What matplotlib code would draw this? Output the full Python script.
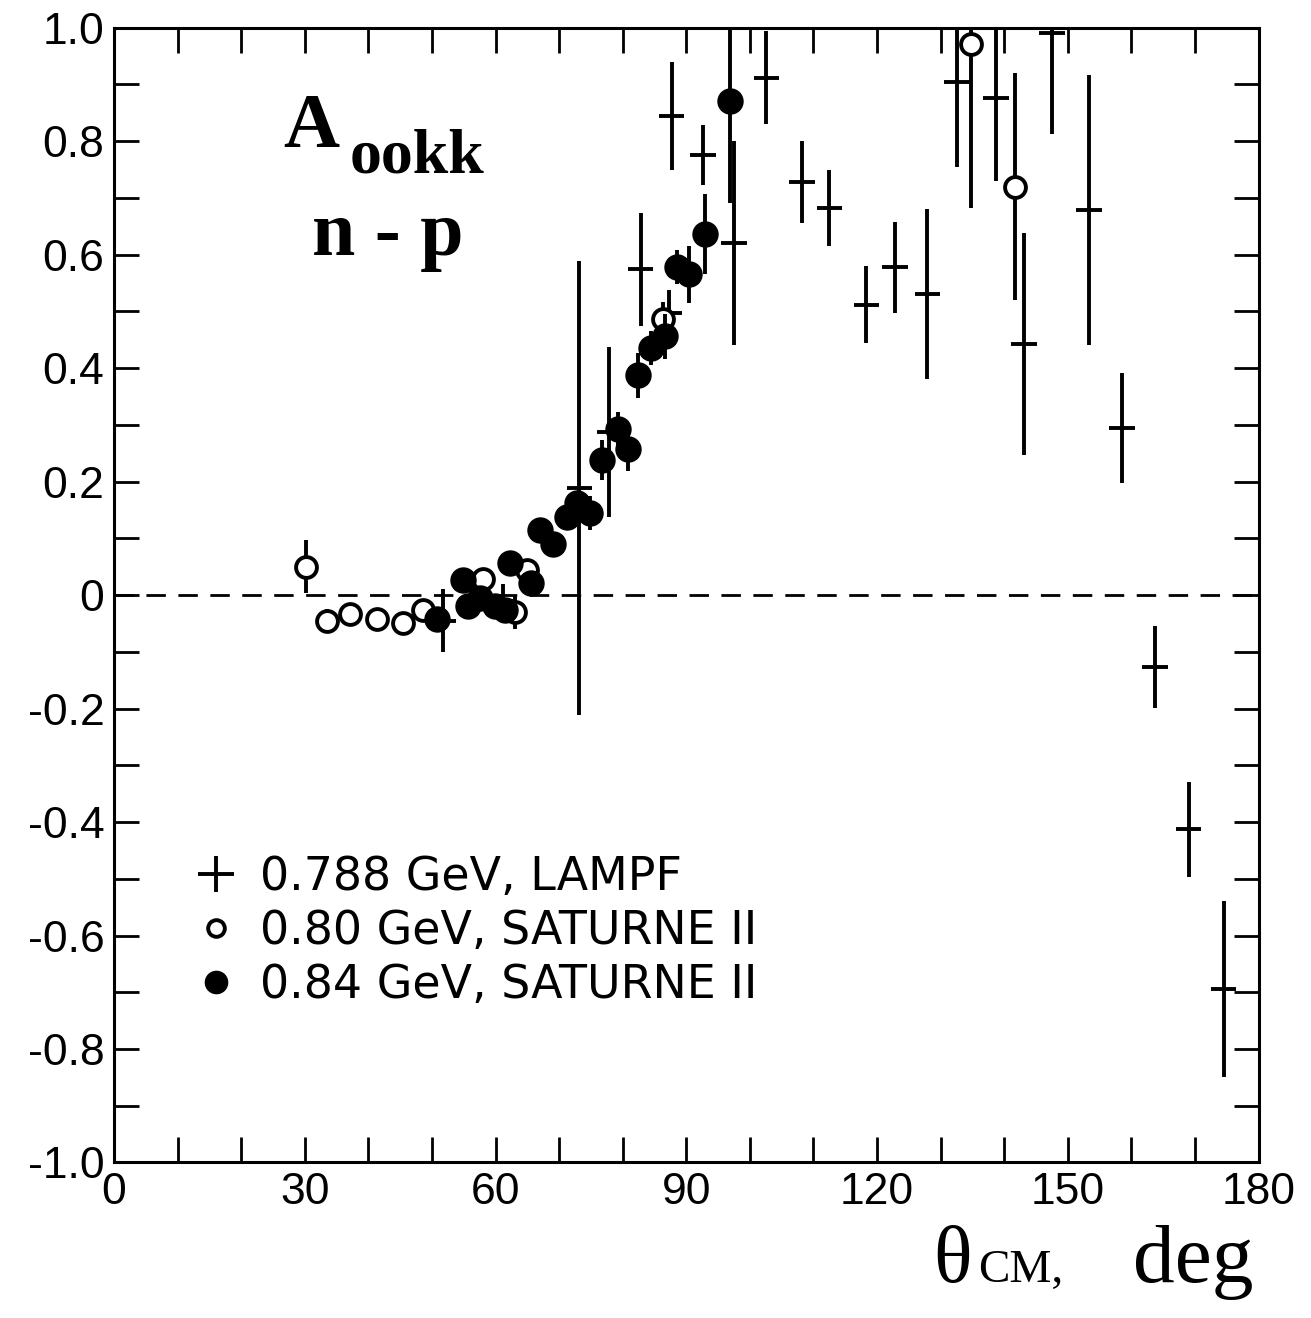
import numpy as np
import matplotlib
matplotlib.use("Agg")
import matplotlib.pyplot as plt
from matplotlib.lines import Line2D

# 0.788 GeV, LAMPF  (theta_cm [deg], A_ookk, error)
lampf_theta = [51.8, 61.2, 73.2, 77.9, 82.8, 87.3, 87.7, 92.6, 97.5, 102.6,
               108.2, 112.5, 118.3, 122.8, 127.9, 132.6, 138.7, 143.1, 147.5,
               153.3, 158.5, 163.7, 169.0, 174.5]
lampf_a = [-0.045, -0.01, 0.188, 0.288, 0.574, 0.498, 0.845, 0.776, 0.62, 0.912,
           0.728, 0.682, 0.512, 0.578, 0.53, 0.905, 0.876, 0.442, 0.99,
           0.678, 0.295, -0.127, -0.413, -0.694]
lampf_err = [0.055, 0.03, 0.40, 0.15, 0.10, 0.04, 0.095, 0.053, 0.18, 0.082,
             0.073, 0.067, 0.068, 0.08, 0.15, 0.15, 0.146, 0.196, 0.177,
             0.238, 0.097, 0.072, 0.084, 0.155]

# 0.80 GeV, SATURNE II
sat80_theta = [30.2, 33.5, 37.1, 41.4, 45.4, 48.6, 58.0, 63.0, 65.0, 86.3, 134.8, 141.7]
sat80_a = [0.05, -0.045, -0.033, -0.042, -0.05, -0.027, 0.028, -0.03, 0.045,
           0.486, 0.972, 0.72]
sat80_err = [0.047, 0.02, 0.01, 0.01, 0.01, 0.012, 0.015, 0.03, 0.015,
             0.03, 0.29, 0.20]

# 0.84 GeV, SATURNE II
sat84_theta = [50.8, 54.9, 55.7, 57.5, 59.9, 61.5, 62.3, 65.6, 67.0, 69.0, 71.3,
               72.8, 74.8, 76.8, 79.2, 80.8, 82.4, 84.5, 86.6, 88.5, 90.5, 92.9, 96.9]
sat84_a = [-0.042, 0.027, -0.02, -0.005, -0.02, -0.027, 0.056, 0.022, 0.115, 0.09,
           0.138, 0.163, 0.145, 0.238, 0.292, 0.258, 0.387, 0.436, 0.456, 0.578,
           0.565, 0.636, 0.871]
sat84_err = [0.02, 0.015, 0.02, 0.02, 0.02, 0.02, 0.015, 0.02, 0.015, 0.02, 0.02,
             0.02, 0.03, 0.035, 0.03, 0.04, 0.04, 0.03, 0.04, 0.03, 0.05, 0.07, 0.18]

x_major = list(range(0, 181, 10))
x_labels = [str(v) if v % 30 == 0 else "" for v in x_major]
y_major = np.round(np.arange(-1.0, 1.001, 0.1), 1)
y_labels = {1.0: "1.0", 0.8: "0.8", 0.6: "0.6", 0.4: "0.4", 0.2: "0.2", 0.0: "0",
            -0.2: "-0.2", -0.4: "-0.4", -0.6: "-0.6", -0.8: "-0.8", -1.0: "-1.0"}

sans = "Liberation Sans"
serif = "Liberation Serif"

fig = plt.figure(figsize=(13.11, 13.18), dpi=100)
ax = fig.add_axes([0.087, 0.118, 0.873, 0.861])

ax.axhline(0, color="black", lw=2.0, ls=(0, (7, 4.5)), zorder=1)

ax.errorbar(lampf_theta, lampf_a, yerr=lampf_err, xerr=2.0, fmt="none",
            ecolor="black", elinewidth=2.8, capsize=0, zorder=2)
ax.errorbar(sat80_theta, sat80_a, yerr=sat80_err, fmt="o", ms=15,
            mfc="white", mec="black", mew=2.8, ecolor="black",
            elinewidth=2.8, capsize=0, zorder=3)
ax.errorbar(sat84_theta, sat84_a, yerr=sat84_err, fmt="o", ms=18,
            mfc="black", mec="black", ecolor="black",
            elinewidth=2.8, capsize=0, zorder=4)

ax.set_xlim(0, 180)
ax.set_ylim(-1.0, 1.0)
ax.set_xticks(x_major)
ax.set_xticklabels(x_labels, fontsize=32, family=sans)
ax.set_yticks(y_major)
ax.set_yticklabels([y_labels.get(float(v), "") for v in y_major],
                   fontsize=32, family=sans)
ax.tick_params(which="major", direction="in", length=18, width=2,
               top=True, right=True, pad=7)
for s in ax.spines.values():
    s.set_linewidth(2.2)

# panel annotation
ax.text(0.148, 0.895, "A", transform=ax.transAxes, fontsize=56,
        family=serif, weight="bold", ha="left", va="baseline")
ax.text(0.206, 0.872, "ookk", transform=ax.transAxes, fontsize=46,
        family=serif, weight="bold", ha="left", va="baseline")
ax.text(0.239, 0.80, "n - p", transform=ax.transAxes, fontsize=56,
        family=serif, weight="bold", ha="center", va="baseline")

# axis title
fig.text(0.712, 0.027, "θ", fontsize=58, family=serif, ha="left", va="baseline")
fig.text(0.746, 0.027, "CM,", fontsize=34, family=serif, ha="left", va="baseline")
fig.text(0.864, 0.027, "deg", fontsize=60, family=serif, ha="left", va="baseline")

handles = [
    Line2D([], [], ls="none", marker="+", ms=26, mew=2.8, color="black"),
    Line2D([], [], ls="none", marker="o", ms=12, mew=2.8, mfc="white", mec="black"),
    Line2D([], [], ls="none", marker="o", ms=16, mfc="black", mec="black"),
]
labels = ["0.788 GeV, LAMPF", "0.80 GeV, SATURNE II", "0.84 GeV, SATURNE II"]
leg = ax.legend(handles, labels, loc="upper left", bbox_to_anchor=(0.055, 0.287),
                frameon=False, prop={"family": "DejaVu Sans", "size": 33},
                handlelength=0.9, handletextpad=0.5, labelspacing=0.2,
                borderaxespad=0)

fig.savefig("out.png", dpi=100)
